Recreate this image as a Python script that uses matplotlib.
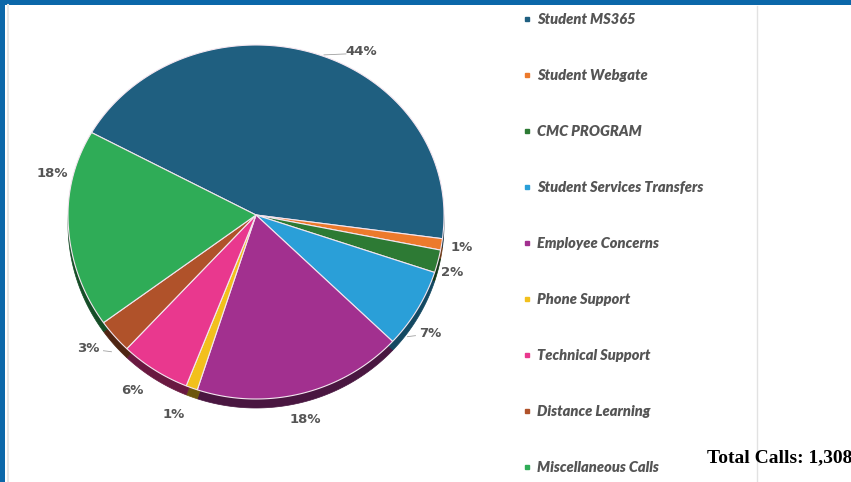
import numpy as np
import matplotlib
matplotlib.use("Agg")
import matplotlib.pyplot as plt
from matplotlib.colors import to_rgb
from matplotlib.patches import Rectangle, Polygon

categories = ["Student MS365", "Student Webgate", "CMC PROGRAM",
              "Student Services Transfers", "Employee Concerns", "Phone Support",
              "Technical Support", "Distance Learning", "Miscellaneous Calls"]
shares = [44, 1, 2, 7, 18, 1, 6, 3, 18]
colors = ["#1f5f80", "#ec7a2c", "#2d7a34", "#2a9fd8", "#a2308f",
          "#f2c01c", "#e9388e", "#b0522a", "#2fac57"]
total_calls = "1,308"

# label placement (angle nudge in degrees, radius) - Excel "best fit" look
label_layout = [(-12, 1.11), (0, 1.11), (-2, 1.09), (-4, 1.13), (-1, 1.14),
                (-2, 1.17), (-2, 1.16), (-2, 1.15), (-16, 1.11)]
leader = {0, 3, 7}   # labels with a short leader line
GRAY = "#555555"

W, H = 851, 482
fig = plt.figure(figsize=(W / 100, H / 100), dpi=100)
ax = fig.add_axes([0, 0, 1, 1])

# tilted pie: apex at (cx, cy), far half flatter than near half
cx, cy, rx, ry_top, ry_bot, depth = 256, 215, 188, 170, 184, 9
START = 151


def to_px(x, y, dy=0):
    x = np.asarray(x, float); y = np.asarray(y, float)
    return cx + x * rx, cy + dy - y * np.where(y > 0, ry_top, ry_bot)


# let pie work out the slice angles, then redraw them on the tilted ellipse
wedges, _ = ax.pie(shares, startangle=START, counterclock=False)
angles = [(w.theta1, w.theta2) for w in wedges]
for w in wedges:
    w.remove()


def slice_poly(t1, t2, dy=0):
    t = np.deg2rad(np.linspace(t1, t2, max(int(abs(t2 - t1)) * 2, 4)))
    x = np.r_[0, np.cos(t)]; y = np.r_[0, np.sin(t)]
    px, py = to_px(x, y, dy)
    return np.c_[px, py]


dark = [tuple(c * 0.45 for c in to_rgb(col)) for col in colors]
for (t1, t2), col in zip(angles, dark):
    ax.add_patch(Polygon(slice_poly(t1, t2, depth), closed=True, fc=col, ec=col,
                         lw=0.5, zorder=1))
for (t1, t2), col in zip(angles, colors):
    ax.add_patch(Polygon(slice_poly(t1, t2), closed=True, fc=col, ec="#f4e6f0",
                         lw=0.8, zorder=2))

for i, ((t1, t2), pct, (da, r)) in enumerate(zip(angles, shares, label_layout)):
    a = np.deg2rad(0.5 * (t1 + t2) + da)
    tx, ty = to_px(r * np.cos(a), r * np.sin(a))
    ax.text(tx, ty, f"{pct}%", ha="center", va="center", fontsize=9.5,
            fontweight="bold", color=GRAY, zorder=3)
    if i in leader:
        s = -1 if tx > cx else 1
        x0 = tx + s * 15
        ax.plot([x0, x0 + s * (22 if i == 0 else 8)], [ty + 2, ty + 3],
                color="#a0a0a0", lw=0.6, zorder=3)

# legend
for i, (lab, col) in enumerate(zip(categories, colors)):
    y = 19 + i * 56
    ax.plot([527], [y], marker="s", ms=3.5, color=col, lw=0)
    ax.text(537, y, lab, ha="left", va="center", fontsize=10.5,
            fontstyle="italic", fontweight="heavy", color=GRAY, family="Lato")

ax.text(707, 458, f"Total Calls: {total_calls}", ha="left", va="center",
        fontsize=14, fontweight="bold", family="Liberation Serif", color="black")

# frame: blue border top/left, light divider
ax.plot([757, 757], [6, H], color="#e2e2e2", lw=1)
ax.plot([8, 8], [5, H], color="#e6e6e6", lw=1.5)
ax.add_patch(Rectangle((0, 0), W, 5, color="#0b67a9", lw=0))
ax.add_patch(Rectangle((0, 0), 5, H, color="#0b67a9", lw=0))

ax.set_xlim(0, W); ax.set_ylim(H, 0)
ax.set_aspect("auto")
ax.axis("off")

fig.savefig("out.png", dpi=100)
